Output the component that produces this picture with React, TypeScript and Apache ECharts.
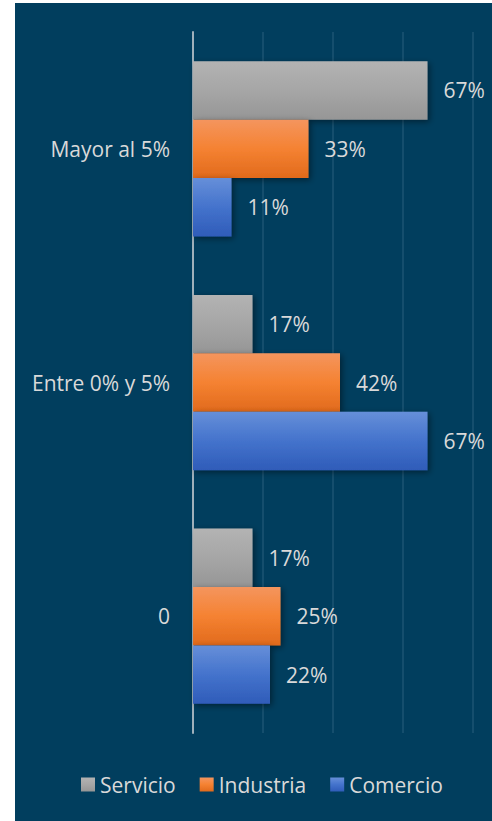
import React, { useEffect, useRef } from "react";
import * as echarts from "echarts";

const categories = ["0", "Entre 0% y 5%", "Mayor al 5%"];
const servicio = [17, 17, 67];
const industria = [25, 42, 33];
const comercio = [22, 67, 11];
const legendNames = ["Servicio", "Industria", "Comercio"];
const xTicks = { min: 0, max: 80, interval: 20 };

const FONT = "'Open Sans', 'Noto Sans', sans-serif";
const TEXT = "#d9d9d9";

function grad(top: string, mid: string, bottom: string) {
  return new echarts.graphic.LinearGradient(0, 0, 0, 1, [
    { offset: 0, color: top },
    { offset: 0.5, color: mid },
    { offset: 1, color: bottom },
  ]);
}

export default function App() {
  const ref = useRef<HTMLDivElement>(null);
  useEffect(() => {
    if (!ref.current) return;
    const chart = echarts.init(ref.current, undefined, { renderer: "svg" });
    const label = {
      show: true,
      position: "right" as const,
      distance: 16,
      color: TEXT,
      fontSize: 21,
      fontFamily: FONT,
      formatter: "{c}%",
    };
    const shadow = {
      shadowColor: "rgba(0,0,0,0.45)",
      shadowBlur: 6,
      shadowOffsetX: 2,
      shadowOffsetY: 2,
    };
    const mk = (name: string, data: number[], color: any) => ({
      name,
      type: "bar",
      data,
      barGap: "0%",
      barCategoryGap: "25%",
      label,
      itemStyle: { color, ...shadow },
    });
    chart.setOption({
      animation: false,
      backgroundColor: "#013e5e",
      grid: { left: 178, top: 29, width: 280, height: 701, containLabel: false },
      legend: {
        data: legendNames,
        left: 61,
        top: 766,
        icon: "rect",
        itemWidth: 14,
        itemHeight: 14,
        itemGap: 24,
        textStyle: { color: TEXT, fontSize: 21, fontFamily: FONT },
      },
      xAxis: {
        type: "value",
        min: xTicks.min,
        max: xTicks.max,
        interval: xTicks.interval,
        axisLabel: { show: false },
        axisLine: { show: false },
        axisTick: { show: false },
        splitLine: { show: true, lineStyle: { color: "#1d5473", width: 1.5 } },
      },
      yAxis: {
        type: "category",
        data: categories,
        axisLine: { show: true, lineStyle: { color: "#9fb0bb", width: 2 } },
        axisTick: { show: false },
        axisLabel: { color: TEXT, fontSize: 21, fontFamily: FONT, margin: 23 },
      },
      series: [
        mk("Servicio", servicio, grad("#b3b3b3", "#a6a6a6", "#969696")),
        mk("Industria", industria, grad("#f4955e", "#f58232", "#e16a1c")),
        mk("Comercio", comercio, grad("#668fd9", "#4473cc", "#2f5cb9")),
      ],
    });
    return () => chart.dispose();
  }, []);
  return (
    <div style={{ position: "absolute", left: 0, top: 0, width: 492, height: 821, background: "#fff" }}>
      <div ref={ref} style={{ position: "absolute", left: 15, top: 3, width: 477, height: 818 }} />
    </div>
  );
}
